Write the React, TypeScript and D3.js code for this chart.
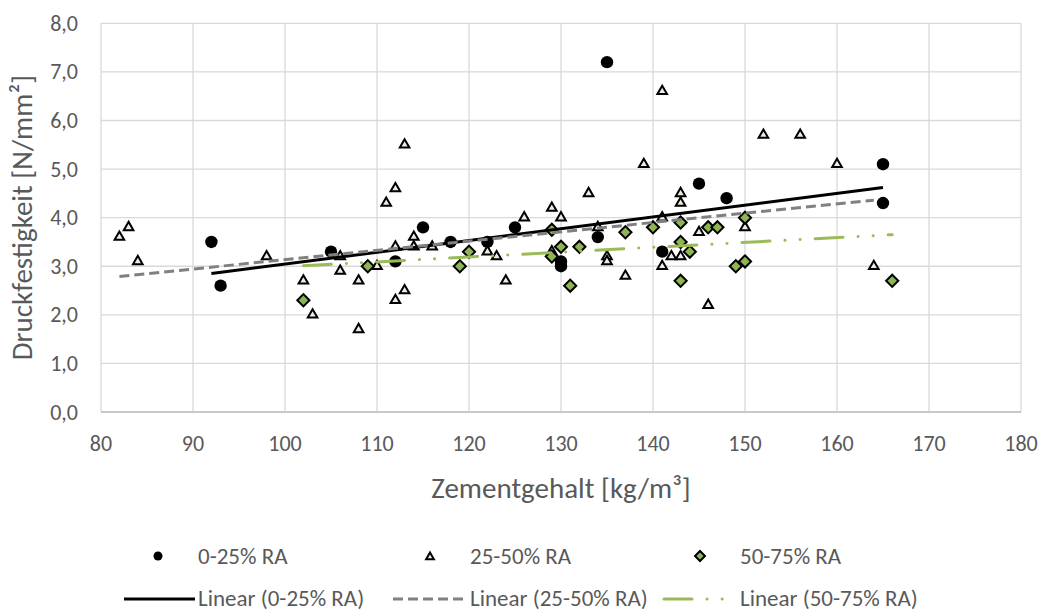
import React from "react";
import * as d3 from "d3";

// ---- data ----
const xTickValues = [80, 90, 100, 110, 120, 130, 140, 150, 160, 170, 180];
const yTickValues = [0, 1, 2, 3, 4, 5, 6, 7, 8];

// 0-25% RA (circles)
const ra0X = [92, 93, 105, 112, 115, 118, 122, 125, 130, 130, 134, 135, 141, 145, 148, 165, 165];
const ra0Y = [3.5, 2.6, 3.3, 3.1, 3.8, 3.5, 3.5, 3.8, 3.1, 3.0, 3.6, 7.2, 3.3, 4.7, 4.4, 5.1, 4.3];

// 25-50% RA (triangles)
const ra1X = [82, 83, 84, 98, 102, 103, 106, 106, 108, 108, 110, 111, 112, 112, 112, 113, 113, 114, 114, 116,
  122, 123, 124, 126, 129, 129, 130, 133, 134, 135, 135, 137, 139, 141, 141, 141, 142, 143, 143, 143,
  145, 146, 150, 152, 156, 160, 164];
const ra1Y = [3.6, 3.8, 3.1, 3.2, 2.7, 2.0, 2.9, 3.2, 2.7, 1.7, 3.0, 4.3, 4.6, 3.4, 2.3, 2.5, 5.5, 3.6, 3.4, 3.4,
  3.3, 3.2, 2.7, 4.0, 4.2, 3.3, 4.0, 4.5, 3.8, 3.2, 3.1, 2.8, 5.1, 6.6, 4.0, 3.0, 3.2, 4.5, 4.3, 3.2,
  3.7, 2.2, 3.8, 5.7, 5.7, 5.1, 3.0];

// 50-75% RA (diamonds)
const ra2X = [102, 109, 119, 120, 129, 129, 130, 131, 132, 137, 140, 143, 143, 143, 144, 146, 147, 149, 150, 150, 166];
const ra2Y = [2.3, 3.0, 3.0, 3.3, 3.75, 3.2, 3.4, 2.6, 3.4, 3.7, 3.8, 3.9, 3.5, 2.7, 3.3, 3.8, 3.8, 3.0, 4.0, 3.1, 2.7];

// linear trendlines: [x start, x end] and [y start, y end]
const trend0X = [92, 165];
const trend0Y = [2.85, 4.62];
const trend1X = [82, 164];
const trend1Y = [2.79, 4.36];
const trend2X = [102, 166];
const trend2Y = [3.01, 3.65];

const seriesNames = ["0-25% RA", "25-50% RA", "50-75% RA"];
const trendNames = ["Linear (0-25% RA)", "Linear (25-50% RA)", "Linear (50-75% RA)"];

const W = 1043;
const H = 613;
const FONT = "Carlito, Lato, 'Open Sans', sans-serif";
const TXT = "#595959";
const GREEN_FILL = "#8db652";
const GREEN_LINE = "#9bbb59";
const TRI_FILL = "#eeece1";
const GRAY_DASH = "10,5";
const GREEN_DASH = "28,15,0.1,15,0.1,15";

const x = d3.scaleLinear().domain([80, 180]).range([101, 1021]);
const y = d3.scaleLinear().domain([0, 8]).range([412, 23.3]);

const triPath = d3.symbol(d3.symbolTriangle, 40)() as string;
const triPathSmall = d3.symbol(d3.symbolTriangle, 26)() as string;
const diaPath = d3.symbol(d3.symbolSquare, 74)() as string;
const diaPathSmall = d3.symbol(d3.symbolSquare, 50)() as string;

const fmt = (v: number) => v.toFixed(1).replace(".", ",");

function trendPath(xs: number[], ys: number[]) {
  const pts: [number, number][] = xs.map((v, i) => [x(v), y(ys[i])]);
  return d3.line()(pts) as string;
}

const lineStyles = [
  { stroke: "#000000", dash: undefined as string | undefined, cap: "butt" },
  { stroke: "#808080", dash: GRAY_DASH, cap: "butt" },
  { stroke: GREEN_LINE, dash: GREEN_DASH, cap: "round" },
];

export default function App() {
  const trends = [
    trendPath(trend0X, trend0Y),
    trendPath(trend1X, trend1Y),
    trendPath(trend2X, trend2Y),
  ];
  return (
    <div style={{ position: "absolute", left: 0, top: 0 }}>
      <svg width={W} height={H} style={{ display: "block", background: "#fff" }} fontFamily={FONT}>
        {/* gridlines */}
        <g>
          {yTickValues.map((t) => (
            <line key={"gy" + t} x1={x(80)} x2={x(180)} y1={y(t)} y2={y(t)} stroke="#d9d9d9" strokeWidth={1.3} />
          ))}
          {xTickValues.map((t) => (
            <line key={"gx" + t} x1={x(t)} x2={x(t)} y1={y(0)} y2={y(8)} stroke="#d9d9d9" strokeWidth={1.3} />
          ))}
          <line x1={x(80)} x2={x(180)} y1={y(0)} y2={y(0)} stroke="#bfbfbf" strokeWidth={1.5} />
        </g>
        {/* tick labels */}
        <g fontSize={22} fill={TXT}>
          {yTickValues.map((t) => (
            <text key={"ly" + t} x={78} y={y(t)} textAnchor="end" dominantBaseline="central">
              {fmt(t)}
            </text>
          ))}
          {xTickValues.map((t) => (
            <text key={"lx" + t} x={x(t)} y={443} textAnchor="middle" dominantBaseline="central">
              {t}
            </text>
          ))}
        </g>
        {/* axis titles */}
        <text x={561} y={488} textAnchor="middle" dominantBaseline="central" fontSize={29} fill={TXT}>
          Zementgehalt [kg/m³]
        </text>
        <text
          transform={`translate(22,${(y(0) + y(8)) / 2}) rotate(-90)`}
          textAnchor="middle"
          dominantBaseline="central"
          fontSize={29}
          fill={TXT}
        >
          Druckfestigkeit [N/mm²]
        </text>
        {/* markers */}
        <g>
          {ra0X.map((v, i) => (
            <circle key={"c" + i} cx={x(v)} cy={y(ra0Y[i])} r={6.2} fill="#000" />
          ))}
        </g>
        <g>
          {ra1X.map((v, i) => (
            <path
              key={"t" + i}
              d={triPath}
              transform={`translate(${x(v)},${y(ra1Y[i])})`}
              fill={TRI_FILL}
              stroke="#000"
              strokeWidth={2}
              strokeLinejoin="miter"
            />
          ))}
        </g>
        <g>
          {ra2X.map((v, i) => (
            <path
              key={"d" + i}
              d={diaPath}
              transform={`translate(${x(v)},${y(ra2Y[i])}) rotate(45)`}
              fill={GREEN_FILL}
              stroke="#000"
              strokeWidth={2}
            />
          ))}
        </g>
        {/* trendlines */}
        <g fill="none" strokeWidth={3}>
          {trends.map((d, i) => (
            <path
              key={"tr" + i}
              d={d}
              stroke={lineStyles[i].stroke}
              strokeDasharray={lineStyles[i].dash}
              strokeLinecap={lineStyles[i].cap as any}
            />
          ))}
        </g>
        {/* legend */}
        <g fontSize={23} fill={TXT}>
          <circle cx={158} cy={556} r={4.5} fill="#000" />
          <text x={198} y={556} dominantBaseline="central">{seriesNames[0]}</text>
          <path d={triPathSmall} transform="translate(430,557)" fill={TRI_FILL} stroke="#000" strokeWidth={2} />
          <text x={470} y={556} dominantBaseline="central">{seriesNames[1]}</text>
          <path d={diaPathSmall} transform="translate(700,556) rotate(45)" fill={GREEN_FILL} stroke="#000" strokeWidth={2} />
          <text x={740} y={556} dominantBaseline="central">{seriesNames[2]}</text>

          <line x1={124} x2={195} y1={599} y2={599} stroke="#000" strokeWidth={3} />
          <text x={198} y={598} dominantBaseline="central">{trendNames[0]}</text>
          <line x1={393} x2={468} y1={599} y2={599} stroke="#808080" strokeWidth={3} strokeDasharray={GRAY_DASH} />
          <text x={470} y={598} dominantBaseline="central">{trendNames[1]}</text>
          <line x1={664} x2={736} y1={599} y2={599} stroke={GREEN_LINE} strokeWidth={3} strokeDasharray={GREEN_DASH} strokeLinecap="round" />
          <text x={740} y={598} dominantBaseline="central">{trendNames[2]}</text>
        </g>
      </svg>
    </div>
  );
}
